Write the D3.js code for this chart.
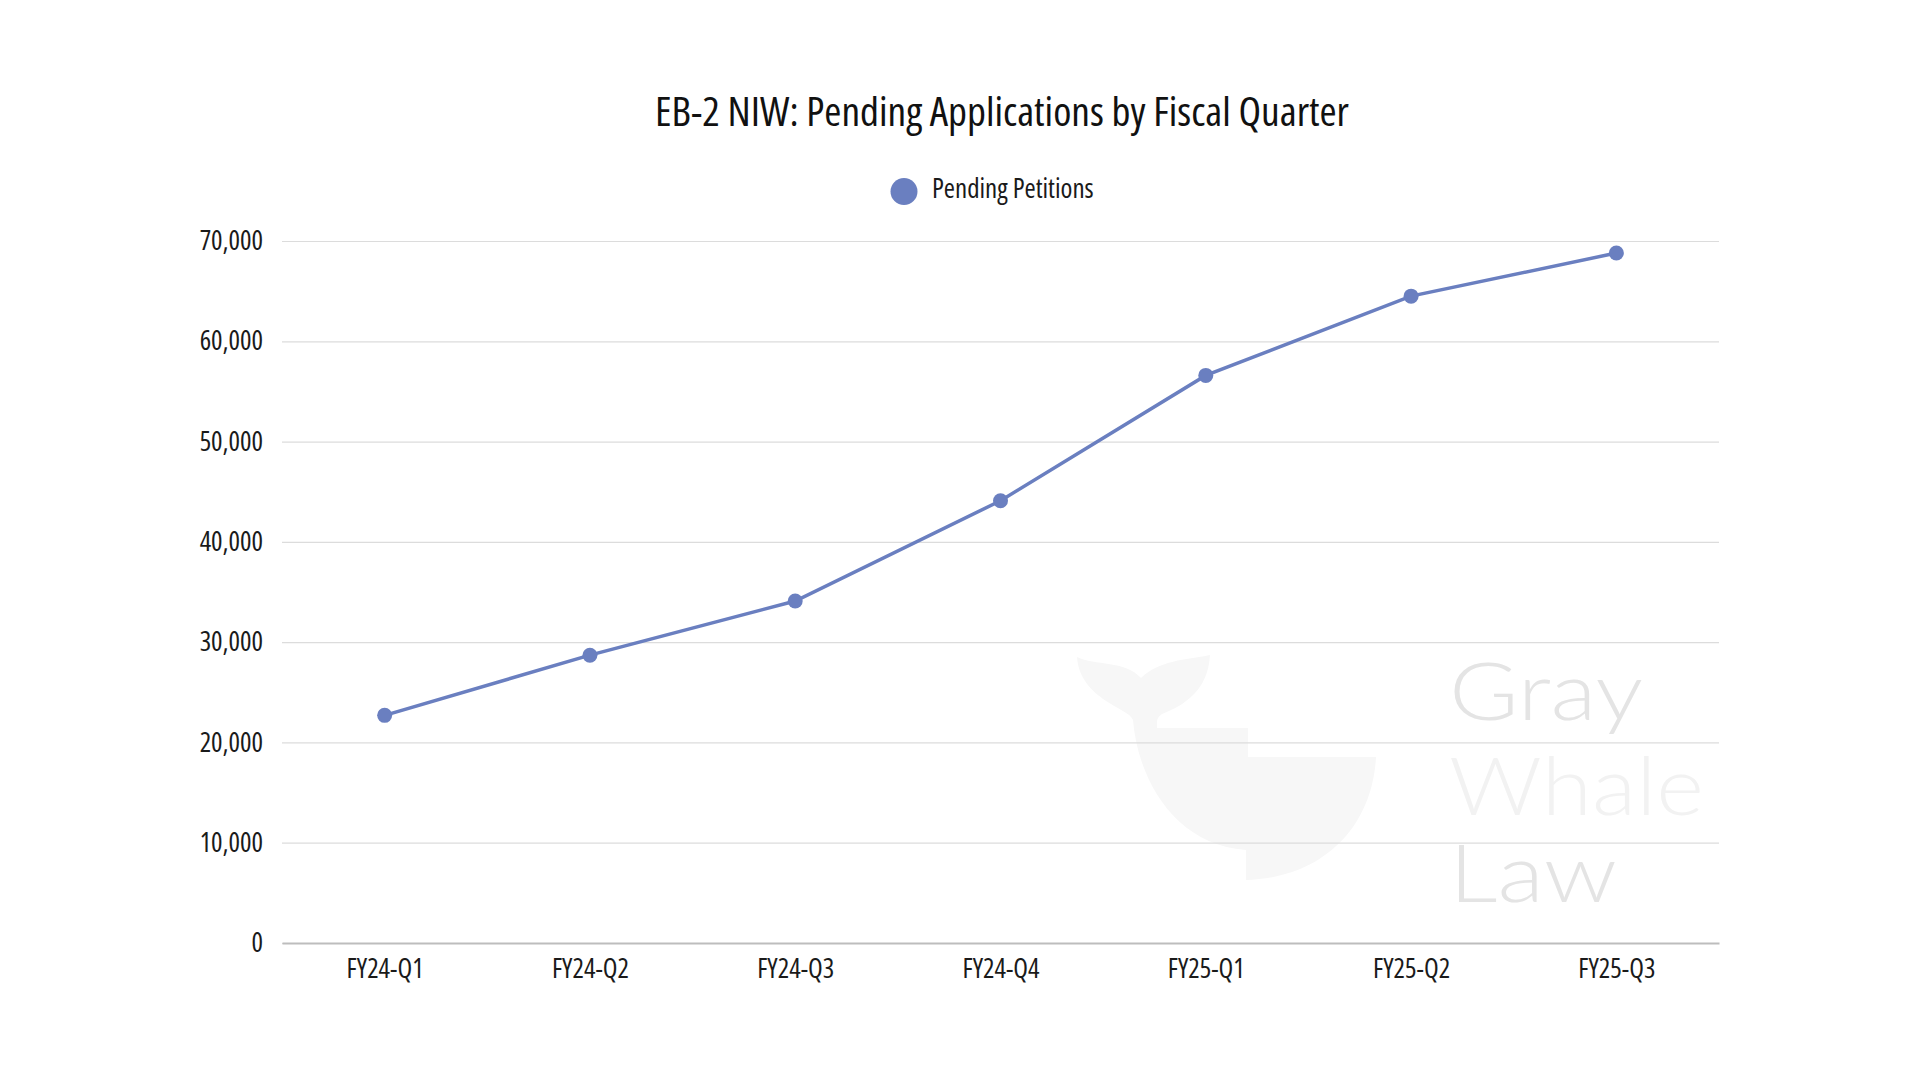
<!DOCTYPE html>
<html>
<head>
<meta charset="utf-8">
<script src="https://cdn.jsdelivr.net/npm/d3@7"></script>
<style>
  html, body { margin: 0; padding: 0; background: #fff; }
  text { font-family: "Open Sans", sans-serif; font-stretch: 75%; font-weight: 400; }
</style>
</head>
<body>
<div id="chart"></div>
<script>
// Chart data
const quarters = ["FY24-Q1", "FY24-Q2", "FY24-Q3", "FY24-Q4", "FY25-Q1", "FY25-Q2", "FY25-Q3"];
const pending = [22700, 28700, 34100, 44100, 56600, 64500, 68800];
const yTicks = [0, 10000, 20000, 30000, 40000, 50000, 60000, 70000];
const titleText = "EB-2 NIW: Pending Applications by Fiscal Quarter";
const seriesName = "Pending Petitions";

// Layout
let margin = { top: 241, right: 201, bottom: 137, left: 282 };
let svgWidth = 1920, svgHeight = 1080;
let chartWidth = svgWidth - margin.left - margin.right;
let chartHeight = svgHeight - margin.top - margin.bottom;
let lineColor = '#6a7fc0';

let svg = d3.select('#chart')
    .append('svg')
    .attr('width', svgWidth)
    .attr('height', svgHeight)
    .style('display', 'block');

svg.append('rect').attr('width', svgWidth).attr('height', svgHeight).attr('fill', '#fff');

// Watermark (whale + text), sits behind the grid
let wm = svg.append('g').attr('class', 'watermark');
let whale = d3.path();
whale.moveTo(1077, 657);
whale.bezierCurveTo(1095, 666, 1125, 660, 1141, 678);
whale.bezierCurveTo(1160, 660, 1185, 660, 1210, 655);
whale.bezierCurveTo(1208, 690, 1185, 705, 1162, 714);
whale.bezierCurveTo(1156, 718, 1157, 722, 1157, 728);
whale.lineTo(1248, 728);
whale.lineTo(1248, 757);
whale.lineTo(1376, 757);
whale.bezierCurveTo(1372, 830, 1320, 878, 1246, 880);
whale.lineTo(1246, 850);
whale.bezierCurveTo(1175, 845, 1138, 780, 1133, 720);
whale.bezierCurveTo(1130, 708, 1080, 700, 1077, 657);
whale.closePath();
wm.append('path').attr('d', whale.toString()).attr('fill', '#f7f7f7');

let wmWords = [["Gray", 720, '#e4e4e4', 194], ["Whale", 815, '#f2f2f2', 255], ["Law", 902, '#e4e4e4', 168]];
wm.selectAll('text.wm')
    .data(wmWords)
    .enter()
    .append('text')
    .attr('class', 'wm')
    .attr('x', 1449)
    .attr('y', d => d[1])
    .attr('fill', d => d[2])
    .attr('textLength', d => d[3])
    .attr('lengthAdjust', 'spacingAndGlyphs')
    .style('font-family', 'Lato, "Noto Sans", sans-serif')
    .style('font-stretch', 'normal')
    .style('font-weight', 300)
    .style('font-size', '80px')
    .text(d => d[0]);

let chartGrp = svg.append('g')
    .attr('transform', `translate(${margin.left}, ${margin.top})`);

// Scales
let xScale = d3.scalePoint()
    .domain(quarters)
    .range([0, chartWidth])
    .padding(0.5);
let yScale = d3.scaleLinear()
    .domain([0, 70000])
    .range([chartHeight, 0]);

// Gridlines + y labels
let yAxis = d3.axisLeft(yScale)
    .tickValues(yTicks)
    .tickFormat(d3.format(','))
    .tickSize(-chartWidth)
    .tickPadding(19);

let yG = chartGrp.append('g').call(yAxis);
yG.select('.domain').remove();
yG.selectAll('.tick line').attr('stroke', '#dcdcdc').attr('stroke-width', 1.2);
yG.selectAll('.tick text')
    .attr('fill', '#1a1a1a')
    .style('font-size', '27px');

// x axis baseline + labels
let xAxis = d3.axisBottom(xScale).tickSize(0).tickPadding(16);
let xG = chartGrp.append('g')
    .attr('transform', `translate(0, ${chartHeight})`)
    .call(xAxis);
xG.select('.domain').attr('stroke', '#bdbdbd').attr('stroke-width', 1.8);
xG.selectAll('.tick text')
    .attr('fill', '#1a1a1a')
    .style('font-size', '27px');

// Line and markers
let line = d3.line()
    .x((d, i) => xScale(quarters[i]))
    .y(d => yScale(d));

chartGrp.append('path')
    .datum(pending)
    .attr('d', line)
    .attr('fill', 'none')
    .attr('stroke', lineColor)
    .attr('stroke-width', 3.5);

chartGrp.selectAll('circle.pt')
    .data(pending)
    .enter()
    .append('circle')
    .attr('class', 'pt')
    .attr('cx', (d, i) => xScale(quarters[i]))
    .attr('cy', d => yScale(d))
    .attr('r', 7.5)
    .attr('fill', lineColor);

// Title
let title = svg.append('text')
    .attr('class', 'title')
    .attr('x', 1002)
    .attr('y', 126)
    .attr('text-anchor', 'middle')
    .attr('fill', '#111')
    .style('font-size', '40px')
    .style('font-stretch', '78%')
    .text(titleText);

// keep the title at the reference width
if (Math.abs(title.node().getComputedTextLength() - 694) > 8) {
    title.attr('textLength', 694).attr('lengthAdjust', 'spacingAndGlyphs');
}

// Legend
let legend = svg.append('g').attr('class', 'legend');
legend.append('circle')
    .attr('cx', 904)
    .attr('cy', 191.5)
    .attr('r', 13.5)
    .attr('fill', lineColor);
legend.append('text')
    .attr('x', 932)
    .attr('y', 198)
    .attr('fill', '#1a1a1a')
    .style('font-size', '27px')
    .text(seriesName);
</script>
</body>
</html>
